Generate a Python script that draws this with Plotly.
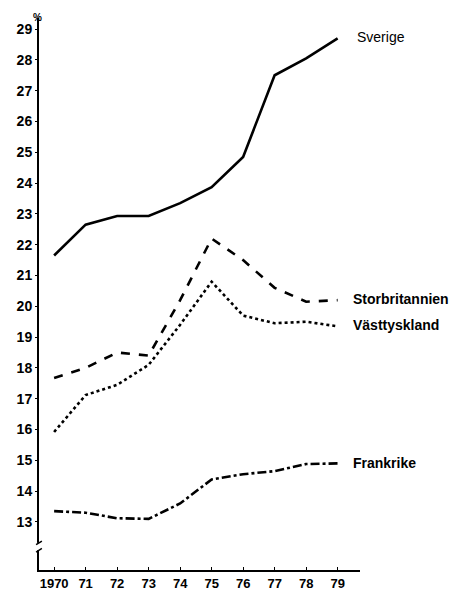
import plotly.graph_objects as go

years = [1970, 1971, 1972, 1973, 1974, 1975, 1976, 1977, 1978, 1979]
x_tick_labels = ["1970", "71", "72", "73", "74", "75", "76", "77", "78", "79"]
y_ticks = list(range(13, 30))

sverige = [21.65, 22.65, 22.93, 22.93, 23.35, 23.87, 24.85, 27.5, 28.05, 28.7]
storbritannien = [17.67, 18.0, 18.5, 18.4, 20.2, 22.2, 21.5, 20.6, 20.15, 20.2]
vasttyskland = [15.92, 17.12, 17.45, 18.1, 19.4, 20.8, 19.7, 19.45, 19.5, 19.35]
frankrike = [13.35, 13.3, 13.12, 13.1, 13.6, 14.38, 14.55, 14.65, 14.88, 14.9]

series = [
    ("Sverige", sverige, "solid"),
    ("Storbritannien", storbritannien, "dash"),
    ("Västtyskland", vasttyskland, "dot"),
    ("Frankrike", frankrike, "dashdot"),
]

FONT = "Liberation Sans, Arial, Helvetica, sans-serif"

fig = go.Figure()
for name, vals, dash in series:
    fig.add_trace(go.Scatter(
        x=years, y=vals, mode="lines", name=name,
        line=dict(color="black", width=2.6, dash=dash),
        showlegend=False,
    ))

label_cfg = {
    "Sverige": (0.05, 17, "normal"),
    "Storbritannien": (0.05, 13, "bold"),
    "Västtyskland": (0.05, 13, "bold"),
    "Frankrike": (0.0, 13, "bold"),
}
for name, vals, dash in series:
    dy, xs, wt = label_cfg[name]
    fig.add_annotation(
        x=1979, y=vals[-1] + dy, xref="x", yref="y",
        text=name, showarrow=False, xanchor="left", yanchor="middle",
        xshift=xs, font=dict(family=FONT, size=14, color="black", weight=wt),
    )

# percent sign
fig.add_annotation(
    x=0, y=1, xref="paper", yref="paper", text="%", showarrow=False,
    xanchor="center", yanchor="bottom", xshift=-2, yshift=-6, borderpad=0,
    font=dict(family=FONT, size=10, color="black", weight="bold"),
)

# axis break on y axis
brk = 12.2
fig.add_shape(type="rect", xref="paper", yref="y", x0=-0.01, x1=0.01, y0=brk - 0.12, y1=brk + 0.12,
              fillcolor="white", line=dict(width=0), layer="above")
for dy in (-0.12, 0.12):
    fig.add_shape(type="line", xref="paper", yref="y", x0=-0.009, x1=0.009,
                  y0=brk + dy - 0.06, y1=brk + dy + 0.06,
                  line=dict(color="black", width=1.5), layer="above")

fig.update_layout(
    width=452, height=592,
    margin=dict(l=31, r=100, t=10, b=30),
    paper_bgcolor="white", plot_bgcolor="white",
    font=dict(family=FONT, color="black"),
    xaxis=dict(
        range=[1969.52, 1979.71], tickmode="array", tickvals=years, ticktext=x_tick_labels,
        showgrid=False, zeroline=False, showline=True, linecolor="black", linewidth=2,
        ticks="inside", ticklen=3, tickwidth=1, tickcolor="black", automargin=False,
        tickfont=dict(family=FONT, size=13, color="black", weight="bold"),
    ),
    yaxis=dict(
        range=[11.44, 29.36], tickmode="array", tickvals=y_ticks,
        showgrid=False, zeroline=False, showline=True, linecolor="black", linewidth=2,
        ticks="outside", ticklen=2, tickwidth=1, tickcolor="black", automargin=False,
        tickfont=dict(family=FONT, size=14, color="black", weight="bold"),
    ),
)

fig.write_html("out.html")
